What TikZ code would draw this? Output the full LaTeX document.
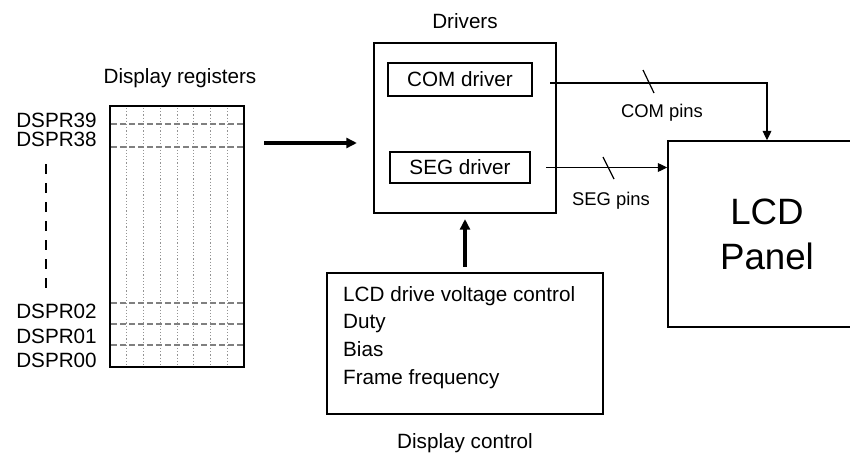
\documentclass[tikz,border=0pt]{standalone}
\usepackage{fontspec}
\setmainfont{Liberation Sans}
\usetikzlibrary{arrows.meta,positioning,calc}

\begin{document}
\begin{tikzpicture}[
  x=0.75pt, y=-0.75pt,
  lbl/.style={font=\fontsize{15.5}{18}\selectfont, inner sep=0pt},
  pinlbl/.style={font=\fontsize{13.8}{16}\selectfont, inner sep=0pt},
  blkbox/.style={draw, line width=1.6pt, inner sep=0pt},
  drvbox/.style={draw, line width=1.6pt, font=\fontsize{15.5}{18}\selectfont, inner sep=0pt},
  bigarrow/.style={-{Triangle[length=8pt,width=7.5pt]}, line width=2.6pt},
  pinline/.style={-{Triangle[length=7pt,width=6.5pt]}, line width=0.9pt},
  gridv/.style={gray!85, line width=0.7pt, dash pattern=on 0.9pt off 1.5pt},
  gridh/.style={gray, line width=0.8pt, dash pattern=on 4.5pt off 2.25pt},
]
\useasboundingbox (0,0) rectangle (850,454);
\clip (0,0) rectangle (850,454);

% ===================== Display registers =====================
\node[lbl, anchor=base] (regtitle) at (180,83) {Display registers};
\node[blkbox, minimum width=100.5pt, minimum height=195.75pt] (regs) at (177,236.5) {};

% register grid
\foreach \k in {1,...,7}
  \draw[gridv] ({110+\k*16.75},108) -- ({110+\k*16.75},366);
\foreach \gy in {124,147,303,324,345}
  \draw[gridh] (111,\gy) -- (243,\gy);

% register names
\foreach \r/\ry in {39/127,38/146,02/318,01/343,00/367}
  \node[lbl, anchor=base east] (dspr\r) at (97,\ry) {DSPR\r};
\draw[line width=2pt, dash pattern=on 7.5pt off 6.75pt] (46,164) -- (46,288);

% ===================== Drivers =====================
\node[lbl, anchor=base] (drvtitle) at (465,28) {Drivers};
\node[blkbox, minimum width=136.5pt, minimum height=127.5pt] (drivers) at (465,128) {};
\node[drvbox, minimum width=108pt, minimum height=24.75pt] (com) at (460,79.5) {COM driver};
\node[drvbox, minimum width=105pt, minimum height=23.25pt] (seg) at (460,167.5) {SEG driver};

\coordinate (busy) at (0,143);
\draw[bigarrow, shorten <=14.25pt, shorten >=12pt] (regs.east |- busy) -- (drivers.west |- busy);

% ===================== Display control =====================
\node[blkbox, minimum width=207pt, minimum height=105.75pt] (ctrl) at (465,343.5) {};
\node[below right=10.5pt and 12.75pt of ctrl.north west, inner sep=0pt, align=left,
      font=\fontsize{15.5}{20.75}\selectfont] (ctrltext)
  {LCD drive voltage control\\Duty\\Bias\\Frame frequency};
\node[lbl, anchor=base] (ctrltitle) at (465,448) {Display control};
\draw[bigarrow, shorten <=3.75pt, shorten >=3.75pt] (ctrl.north) -- (drivers.south);

% ===================== LCD panel =====================
\node[draw, line width=1.1pt, minimum width=148.5pt, minimum height=139.5pt, align=center,
      font=\fontsize{27.5}{33.75}\selectfont] (lcd) at (767,234) {LCD\\Panel};

\draw[pinline] ($(drivers.east |- com.east)+(-7,3.5)$) -| (lcd.north);
\draw[pinline] ($(drivers.east |- seg.east)+(-11,0)$) -- (lcd.west |- seg.east);
\draw[line width=0.9pt] (643,70) -- (654,93);
\draw[line width=0.9pt] (603,157) -- (614,179);
\node[pinlbl, anchor=base] (compins) at (662,117) {COM pins};
\node[pinlbl, anchor=base] (segpins) at (611,205) {SEG pins};

\end{tikzpicture}
\end{document}
